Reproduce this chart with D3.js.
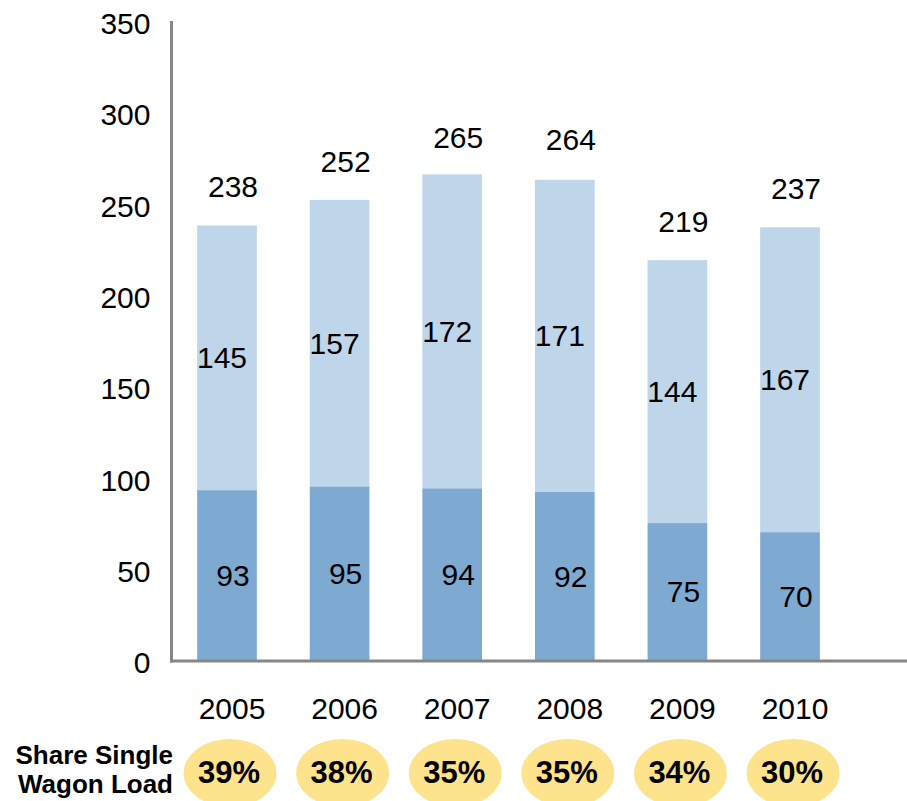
<!DOCTYPE html>
<html>
<head>
<meta charset="utf-8">
<script src="https://cdn.jsdelivr.net/npm/d3@7/dist/d3.min.js"></script>
<style>
  html, body { margin: 0; padding: 0; background: #fff; }
  svg { display: block; }
  text { font-family: "Liberation Sans", Arial, Helvetica, sans-serif; fill: #000; }
</style>
</head>
<body>
<svg id="chart" width="907" height="801"></svg>
<script>
const years = ["2005", "2006", "2007", "2008", "2009", "2010"];
const singleWagon = [93, 95, 94, 92, 75, 70];
const otherLoad = [145, 157, 172, 171, 144, 167];
const totals = [238, 252, 265, 264, 219, 237];
const shares = ["39%", "38%", "35%", "35%", "34%", "30%"];
const yTicks = [0, 50, 100, 150, 200, 250, 300, 350];

const svg = d3.select("#chart");
const x = d3.scaleBand().domain(years).range([170.7, 846.3]).paddingInner(0.47).paddingOuter(0.235);
const y = d3.scaleLinear().domain([0, 350]).range([660, 21]);

const axisColor = "#878787";
const darkBlue = "#7eaad2";
const lightBlue = "#bed5ea";
const yellow = "#fce38c";

// bars
const g = svg.append("g");
years.forEach((yr, i) => {
  const x0 = x(yr), w = x.bandwidth();
  g.append("rect").attr("x", x0).attr("width", w)
    .attr("y", y(singleWagon[i] + otherLoad[i])).attr("height", y(singleWagon[i]) - y(singleWagon[i] + otherLoad[i]))
    .attr("fill", lightBlue);
  g.append("rect").attr("x", x0).attr("width", w)
    .attr("y", y(singleWagon[i])).attr("height", y(0) - y(singleWagon[i]))
    .attr("fill", darkBlue);
  const cx = x0 + w / 2;
  // labels
  g.append("text").attr("x", cx + 6).attr("y", (y(0) + y(singleWagon[i])) / 2).attr("dy", "0.35em")
    .attr("text-anchor", "middle").attr("font-size", 30).text(singleWagon[i]);
  g.append("text").attr("x", cx - 5).attr("y", (y(singleWagon[i]) + y(singleWagon[i] + otherLoad[i])) / 2).attr("dy", "0.35em")
    .attr("text-anchor", "middle").attr("font-size", 30).text(otherLoad[i]);
  g.append("text").attr("x", cx + 6).attr("y", y(totals[i]) - 28)
    .attr("text-anchor", "middle").attr("font-size", 30).text(totals[i]);
  // year labels
  g.append("text").attr("x", cx + 5).attr("y", 719)
    .attr("text-anchor", "middle").attr("font-size", 30).text(yr);
  // share ellipses
  g.append("ellipse").attr("cx", cx + 3).attr("cy", 773).attr("rx", 46.5).attr("ry", 34).attr("fill", yellow);
  g.append("text").attr("x", cx + 2).attr("y", 783)
    .attr("text-anchor", "middle").attr("font-size", 31).attr("font-weight", "bold").text(shares[i]);
});

// y axis
const yAxis = d3.axisLeft(y).tickValues(yTicks).tickSize(0).tickPadding(21);
const ya = svg.append("g").attr("transform", "translate(171.5,0)").call(yAxis);
ya.select(".domain").remove();
ya.selectAll("text").attr("font-size", 30).attr("font-family", "Liberation Sans, Arial, sans-serif").attr("fill", "#000").attr("dy", "0.42em");

svg.append("line").attr("x1", 171.5).attr("x2", 171.5).attr("y1", 21).attr("y2", 662.5)
  .attr("stroke", axisColor).attr("stroke-width", 3);
svg.append("line").attr("x1", 170).attr("x2", 907).attr("y1", 661).attr("y2", 661)
  .attr("stroke", axisColor).attr("stroke-width", 3);

// share label
const lab = svg.append("text").attr("text-anchor", "end").attr("font-weight", "bold").attr("font-size", 26);
lab.append("tspan").attr("x", 173).attr("y", 764).text("Share Single");
lab.append("tspan").attr("x", 173).attr("y", 793).text("Wagon Load");
</script>
</body>
</html>
